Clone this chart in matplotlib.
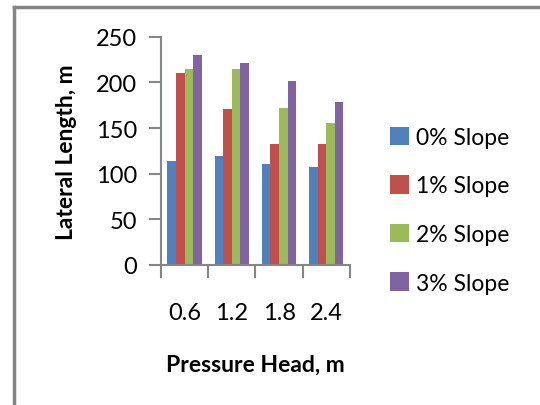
import matplotlib
matplotlib.use("Agg")
import matplotlib.pyplot as plt
from matplotlib.lines import Line2D
from matplotlib.patches import Patch
import numpy as np

plt.rcParams['font.family'] = ['Lato', 'DejaVu Sans']

# Lateral length (m) for each pressure head and slope
pressure_heads = ["0.6", "1.2", "1.8", "2.4"]
slope_0 = [114, 119, 111, 107]
slope_1 = [210, 171, 132, 132]
slope_2 = [215, 215, 172, 156]
slope_3 = [230, 221, 202, 179]
series_names = ["0% Slope", "1% Slope", "2% Slope", "3% Slope"]
series_values = [slope_0, slope_1, slope_2, slope_3]
colors = ["#4F81BD", "#C0504D", "#9BBB59", "#8064A2"]

fig = plt.figure(figsize=(5.4, 4.06), dpi=100)
fig.patch.set_facecolor("white")

# Outer chart frame (left and top edges visible)
frame_col = "#858585"
fig.add_artist(Line2D([0.025, 0.025], [0.0, 0.98], transform=fig.transFigure,
                      color=frame_col, lw=2.5))
fig.add_artist(Line2D([0.025, 1.0], [0.98, 0.98], transform=fig.transFigure,
                      color=frame_col, lw=2.5))

ax = fig.add_axes([0.298, 0.345, 0.350, 0.562])

n = len(pressure_heads)
x = np.arange(n)
bar_w = 1.0 / 5.5
for i, (vals, col) in enumerate(zip(series_values, colors)):
    ax.bar(x + (i - 1.5) * bar_w, vals, width=bar_w, color=col,
           edgecolor="none", label=series_names[i])

ax.set_xlim(-0.5, n - 0.5)
ax.set_ylim(0, 250)
ax.set_yticks(range(0, 251, 50))
ax.set_xticks(x)
ax.set_xticklabels(pressure_heads)
ax.set_xticks(np.arange(-0.5, n, 1.0), minor=True)

axis_col = "#868686"
for side in ["top", "right"]:
    ax.spines[side].set_visible(False)
for side in ["left", "bottom"]:
    ax.spines[side].set_color(axis_col)
    ax.spines[side].set_linewidth(1.5)

ax.tick_params(axis="x", which="major", length=0, pad=27, labelsize=17)
ax.tick_params(axis="x", which="minor", length=9, width=1.5, color=axis_col)
ax.tick_params(axis="y", length=9, width=1.5, color=axis_col, pad=8,
               labelsize=17)

ax.set_xlabel("Pressure Head, m", fontsize=16.5, fontweight="bold", labelpad=22)
ax.set_ylabel("Lateral Length, m", fontsize=16.5, fontweight="bold", labelpad=14)

handles = [Patch(facecolor=c, edgecolor="none") for c in colors]
fig.legend(handles, series_names, loc="center left",
           bbox_to_anchor=(0.684, 0.48), frameon=False, fontsize=16.5,
           handlelength=0.85, handleheight=0.85, handletextpad=0.3,
           labelspacing=1.2)

fig.savefig("out.png", dpi=100, facecolor="white")
